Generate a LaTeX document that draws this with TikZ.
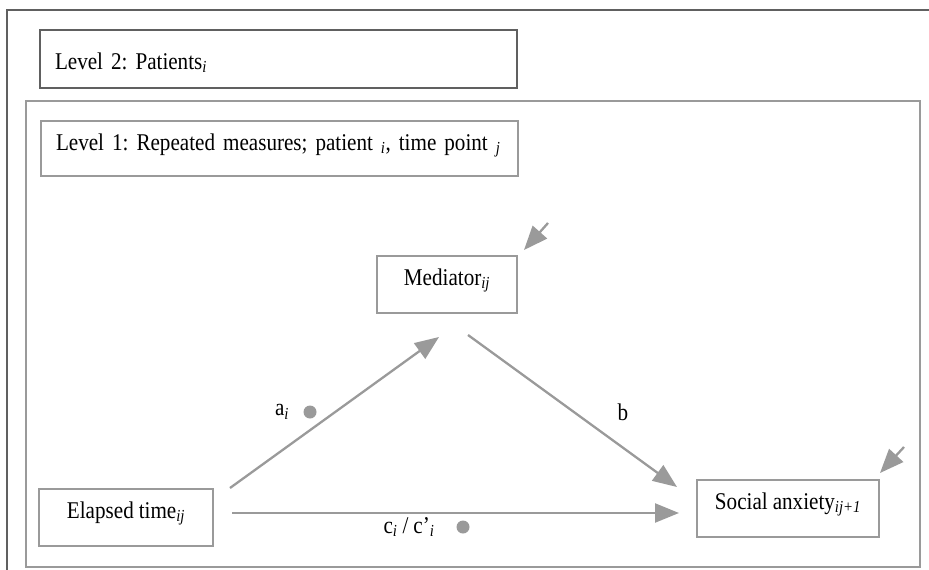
\documentclass[tikz,border=0pt]{standalone}
\usepackage{fontspec}
\setmainfont{Liberation Serif}[FakeStretch=0.88]
\usepackage{tikz}
\usetikzlibrary{arrows.meta,calc}
\usepackage{xcolor}
\definecolor{framedark}{HTML}{606060}
\definecolor{boxgrey}{HTML}{9A9A9A}
\newcommand{\subit}[1]{\textsubscript{\textit{#1}}}
\newcommand{\diagfont}{\fontsize{24}{28}\selectfont\spaceskip=5pt plus 1pt minus 1pt\relax}
\frenchspacing

\begin{document}
\begin{tikzpicture}[x=1pt, y=-1pt,
  every node/.style={font=\diagfont},
  levelbox/.style={draw=#1, line width=2pt, anchor=north west, inner xsep=15pt, inner ysep=0pt,
              minimum width=477pt, text width=447pt, align=left},
  var/.style={draw=boxgrey, line width=2pt, inner sep=0pt, align=center,
              text height=29pt, text depth=28pt},
  arr/.style={-{Triangle[length=24pt, width=19pt]}, line width=2.3pt, boxgrey},
  dot/.style={circle, fill=boxgrey, inner sep=0pt, minimum size=13pt}]
  \useasboundingbox (0,0) rectangle (929,570);
  % frames of the two levels
  \draw[framedark, line width=2.5pt] (7,580) -- (7,10) -- (940,10);
  \draw[boxgrey, line width=2pt] (26,101) rectangle (920,567);
  \node[levelbox=framedark, text height=39pt, text depth=19pt] (lvtwo) at (39,29) {Level 2: Patients\subit{i}};
  \node[levelbox=boxgrey, text height=29pt, text depth=26pt] (lvone) at (40,120)
    {\mbox{Level 1: Repeated measures; patient \subit{i}, time point \subit{j}}};
  % variables
  \node[var, minimum width=140pt] (med) at (447,284.5) {Mediator\subit{ij}};
  \node[var, minimum width=174pt] (time) at (126,517.5) {Elapsed time\subit{ij}};
  \node[var, minimum width=182pt] (anx) at (788,508.5) {Social anxiety\subit{ij+1}};
  % paths
  \draw[arr] ([xshift=16pt]time.north east) -- ([shift={(-8,23)}]med.south);
  \draw[arr] ([shift={(21,21)}]med.south) -- ([shift={(-19,8)}]anx.north west);
  \draw[arr] ([shift={(18,-4.5)}]time.east) -- ([shift={(-17,4.5)}]anx.west);
  % residuals
  \coordinate (medres) at ([shift={(30,-32)}]med.north east);
  \coordinate (anxres) at ([shift={(24,-32)}]anx.north east);
  \draw[arr] (medres) -- ([shift={(6,-5)}]med.north east);
  \draw[arr] (anxres) -- ([shift={(0,-6)}]anx.north east);
  % labels and random effects
  \node (alab) at (282,412) {a\subit{i}};
  \node[dot] (adot) at (310,412) {};
  \node (blab) at (623,412) {b};
  \node (clab) at (409,527) {c\subit{i} / c’\subit{i}};
  \node[dot] (cdot) at (463,527) {};
\end{tikzpicture}
\end{document}
